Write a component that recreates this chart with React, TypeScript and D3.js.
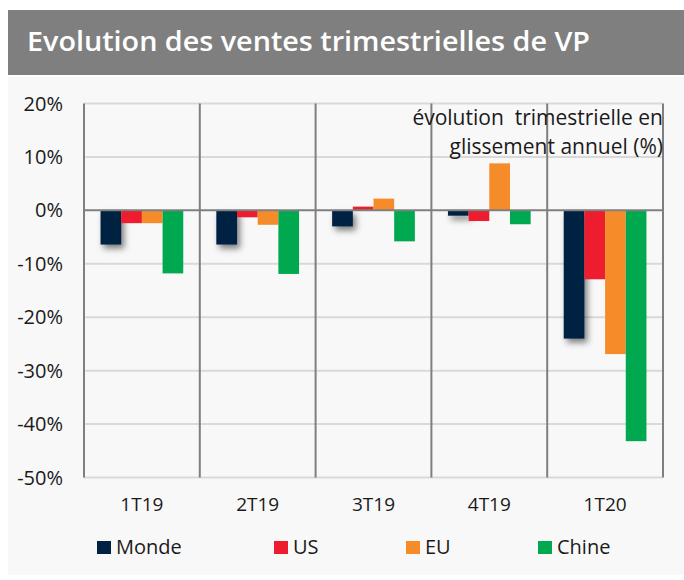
import React from 'react';
import * as d3 from 'd3';

const quarters = ['1T19', '2T19', '3T19', '4T19', '1T20'];
const seriesNames = ['Monde', 'US', 'EU', 'Chine'];
const seriesColors = ['#002142', '#ed1c2e', '#f68b2a', '#00a94f'];
const monde = [-6.4, -6.4, -3.0, -1.0, -24.0];
const us = [-2.4, -1.3, 0.7, -2.0, -12.9];
const eu = [-2.4, -2.7, 2.2, 8.8, -26.9];
const chine = [-11.8, -11.9, -5.8, -2.6, -43.2];
const yTicks = [20, 10, 0, -10, -20, -30, -40, -50];

const values = [monde, us, eu, chine];
const FONT = '"Open Sans", Lato, sans-serif';

const App = () => {
  const left = 84, right = 663, top = 103.5, bottom = 477.5;

  const x = d3.scaleBand<string>().domain(quarters).range([left, right]);
  const inner = d3.scaleBand<string>()
    .domain(seriesNames)
    .range([0, x.bandwidth()])
    .paddingOuter(0.8)
    .paddingInner(0);
  const y = d3.scaleLinear().domain([-50, 20]).range([bottom, top]);
  const legendX = [97, 274, 406, 538];

  return (
    <svg width={684} height={580} style={{position: 'absolute', left: 0, top: 0}}>
      <defs>
        <filter id="shadow" x="-50%" y="-50%" width="200%" height="200%">
          <feDropShadow dx="3" dy="4" stdDeviation="3" floodColor="#000" floodOpacity="0.5" />
        </filter>
      </defs>
      <rect x={0} y={0} width={684} height={580} fill="#fff" />
      <rect x={8} y={77} width={676} height={498} fill="#f8f8f8" />
      <rect x={8} y={10} width={676} height={65} fill="#7f7f7f" />
      <text x={27} y={51} fill="#fff" fontFamily={FONT} fontWeight={600} fontSize={27}
        textLength={563} lengthAdjust="spacingAndGlyphs">
        Evolution des ventes trimestrielles de VP
      </text>

      {yTicks.filter(t => t !== 0).map(t => (
        <line key={'g' + t} x1={left} x2={right} y1={y(t)} y2={y(t)} stroke="#d9d9d9" strokeWidth={2} />
      ))}
      {yTicks.map(t => (
        <text key={'t' + t} x={63} y={y(t)} dy="0.35em" textAnchor="end" fontFamily={FONT} fontSize={20} fill="#1a1a1a">
          {t}%
        </text>
      ))}

      {values.map((vals, si) => (
        <g key={seriesNames[si]} filter={si === 0 ? 'url(#shadow)' : undefined}>
          {vals.map((v, qi) => (
            <rect
              key={qi}
              x={(x(quarters[qi]) as number) + (inner(seriesNames[si]) as number)}
              width={inner.bandwidth()}
              y={y(Math.max(0, v))}
              height={Math.abs(y(v) - y(0))}
              fill={seriesColors[si]}
            />
          ))}
        </g>
      ))}

      <line x1={left} x2={right} y1={y(0)} y2={y(0)} stroke="#7f7f7f" strokeWidth={2} />
      {[...quarters.map(q => x(q) as number), right].map((vx, i) => (
        <line key={'v' + i} x1={vx} x2={vx} y1={top} y2={bottom} stroke="#7f7f7f" strokeWidth={2} />
      ))}

      <text x={right} y={118} dy="0.35em" textAnchor="end" fontFamily={FONT} fontSize={21} fill="#1a1a1a" xmlSpace="preserve">
        évolution  trimestrielle en
      </text>
      <text x={right} y={147} dy="0.35em" textAnchor="end" fontFamily={FONT} fontSize={21} fill="#1a1a1a">
        glissement annuel (%)
      </text>

      {quarters.map(q => (
        <text key={q} x={(x(q) as number) + x.bandwidth() / 2} y={504} dy="0.35em" textAnchor="middle" fontFamily={FONT} fontSize={19} fill="#1a1a1a">
          {q}
        </text>
      ))}

      {seriesNames.map((s, i) => (
        <g key={s}>
          <rect x={legendX[i]} y={541} width={14} height={13} fill={seriesColors[i]} />
          <text x={legendX[i] + 19} y={547} dy="0.35em" fontFamily={FONT} fontSize={20} fill="#1a1a1a">{s}</text>
        </g>
      ))}
    </svg>
  );
};

export default App;
